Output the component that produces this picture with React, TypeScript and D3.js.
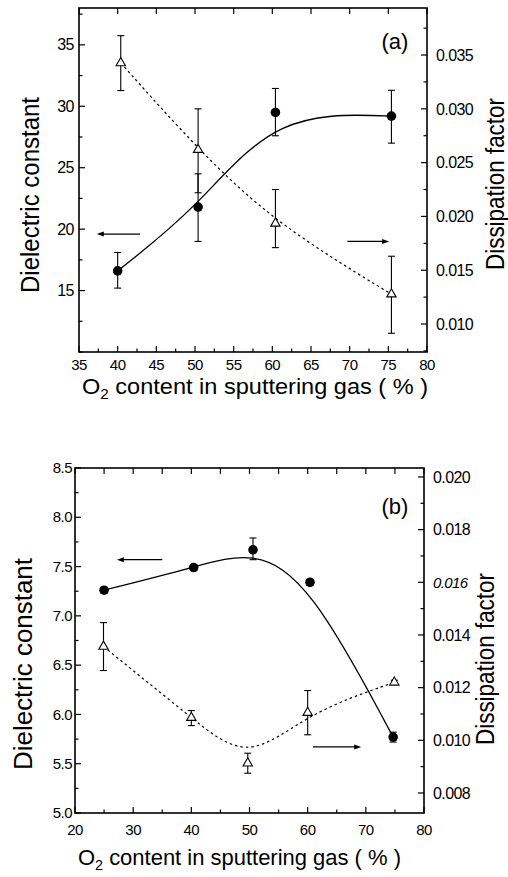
import React from 'react';
import * as d3 from 'd3';

// ---------- Panel (a) data ----------
const aCircleX = [40.0, 50.4, 60.4, 75.4];
const aDielectric = [16.6, 21.8, 29.5, 29.2];
const aDielectricLo = [15.2, 19.0, 27.6, 27.0];
const aDielectricHi = [18.1, 24.5, 31.45, 31.3];
const aTriX = [40.4, 50.4, 60.4, 75.4];
const aDissipation = [0.03426, 0.0262, 0.01935, 0.01277];
const aDissipationLo = [0.0317, 0.0222, 0.0171, 0.00914];
const aDissipationHi = [0.0368, 0.03, 0.0225, 0.0163];
const aXTicks = [35, 40, 45, 50, 55, 60, 65, 70, 75, 80];
const aLeftTicks = [15, 20, 25, 30, 35];
const aRightTicks = [0.01, 0.015, 0.02, 0.025, 0.03, 0.035];
const aRightLabels = ['0.010', '0.015', '0.020', '0.025', '0.030', '0.035'];
const aLeftArrow = [[42.9, 37.3], [19.6, 19.6]];
const aRightArrow = [[69.7, 75.1], [19.0, 19.0]];

// ---------- Panel (b) data ----------
const bCircleX = [25.0, 40.4, 50.6, 60.4, 74.7];
const bDielectric = [7.26, 7.49, 7.67, 7.34, 5.77];
const bDielectricLo = [7.23, 7.46, 7.57, 7.31, 5.72];
const bDielectricHi = [7.29, 7.52, 7.79, 7.37, 5.82];
const bTriX = [24.9, 40.0, 49.7, 60.0, 74.9];
const bDissipation = [0.01356, 0.01086, 0.00913, 0.01105, 0.0122];
const bDissipationLo = [0.01265, 0.01056, 0.00875, 0.01021, 0.01212];
const bDissipationHi = [0.01447, 0.01113, 0.00951, 0.01189, 0.01228];
const bXTicks = [20, 30, 40, 50, 60, 70, 80];
const bLeftTicks = [5.0, 5.5, 6.0, 6.5, 7.0, 7.5, 8.0, 8.5];
const bLeftLabels = ['5.0', '5.5', '6.0', '6.5', '7.0', '7.5', '8.0', '8.5'];
const bRightTicks = [0.008, 0.01, 0.012, 0.014, 0.016, 0.018, 0.02];
const bRightLabels = ['0.008', '0.010', '0.012', '0.014', '0.016', '0.018', '0.020'];
const bLeftArrow = [[35.0, 27.2], [7.57, 7.57]];
const bRightArrow = [[60.9, 69.2], [5.67, 5.67]];

const FONT = "'Liberation Sans', Arial, Helvetica, sans-serif";

type PanelProps = {
  frame: { l: number; r: number; t: number; b: number };
  xDomain: [number, number];
  leftDomain: [number, number];
  rightDomain: [number, number];
  xTicks: number[];
  xMinorStep: number;
  xTopStep: number;
  leftTicks: number[];
  leftLabels: string[];
  leftMinorStep: number;
  rightTicks: number[];
  rightLabels: string[];
  rightMinorStep: number;
  italicRight?: string;
  circleX: number[];
  circleY: number[];
  circleLo: number[];
  circleHi: number[];
  triX: number[];
  triY: number[];
  triLo: number[];
  triHi: number[];
  leftArrow: number[][];
  rightArrow: number[][];
  tag: string;
  tagPos: [number, number];
  xLabelBaseline: number;
  xLabelSize: number;
  leftLabelSize: number;
  leftLabelX: number;
  rightLabelX: number;
  leftTitle: { x: number; y: number; len: number; size: number };
  rightTitle: { x: number; y: number; len: number; size: number };
  xTitle: { x0: number; x1: number; y: number; size: number };
};

function Panel(p: PanelProps) {
  const { l, r, t, b } = p.frame;
  const x = d3.scaleLinear().domain(p.xDomain).range([l, r]);
  const yl = d3.scaleLinear().domain(p.leftDomain).range([b, t]);
  const yr = d3.scaleLinear().domain(p.rightDomain).range([b, t]);

  const eps = 1e-9;
  const xMinor = d3.range(p.xDomain[0], p.xDomain[1] + eps, p.xMinorStep);
  const xTop = d3.range(p.xDomain[0], p.xDomain[1] + eps, p.xTopStep);
  const lMinor = d3
    .range(Math.ceil(p.leftDomain[0] / p.leftMinorStep) * p.leftMinorStep, p.leftDomain[1] + eps, p.leftMinorStep);
  const rMinor = d3
    .range(Math.ceil(p.rightDomain[0] / p.rightMinorStep) * p.rightMinorStep, p.rightDomain[1] + eps, p.rightMinorStep);

  const circlePts: [number, number][] = p.circleX.map((v, i) => [x(v), yl(p.circleY[i])]);
  const triPts: [number, number][] = p.triX.map((v, i) => [x(v), yr(p.triY[i])]);
  const line = d3.line().curve(d3.curveBasis);
  const tri = d3.symbol(d3.symbolTriangle, 38)();

  const MAJ = 6;
  const MIN = 3.5;

  const arrow = (a: number[][], key: string) => {
    const x0 = x(a[0][0]);
    const x1 = x(a[0][1]);
    const y = yl(a[1][0]);
    const dir = Math.sign(x1 - x0);
    return (
      <g key={key}>
        <line x1={x0} y1={y} x2={x1 - dir * 5} y2={y} stroke="#000" strokeWidth={1.2} />
        <path d={`M${x1},${y} L${x1 - dir * 7},${y - 2.5} L${x1 - dir * 7},${y + 2.5} Z`} fill="#000" />
      </g>
    );
  };

  return (
    <g fontFamily={FONT} fill="#000">
      {/* frame */}
      <rect x={l} y={t} width={r - l} height={b - t} fill="none" stroke="#000" strokeWidth={1.6} />
      {/* bottom ticks */}
      {xMinor.map((v, i) => (
        <line key={'xm' + i} x1={x(v)} x2={x(v)} y1={b} y2={b - (p.xTicks.some((m) => Math.abs(m - v) < 1e-6) ? MAJ : MIN)} stroke="#000" strokeWidth={1.2} />
      ))}
      {/* top ticks */}
      {xTop.map((v, i) => (
        <line key={'xt' + i} x1={x(v)} x2={x(v)} y1={t} y2={t + MAJ} stroke="#000" strokeWidth={1.2} />
      ))}
      {/* left ticks */}
      {lMinor.map((v, i) => (
        <line key={'lm' + i} x1={l} x2={l + (p.leftTicks.some((m) => Math.abs(m - v) < 1e-6) ? MAJ : MIN)} y1={yl(v)} y2={yl(v)} stroke="#000" strokeWidth={1.2} />
      ))}
      {/* right ticks */}
      {rMinor.map((v, i) => (
        <line key={'rm' + i} x1={r} x2={r - (p.rightTicks.some((m) => Math.abs(m - v) < 1e-9) ? MAJ : MIN)} y1={yr(v)} y2={yr(v)} stroke="#000" strokeWidth={1.2} />
      ))}
      {/* x tick labels */}
      {p.xTicks.map((v) => (
        <text key={'xl' + v} x={x(v)} y={p.xLabelBaseline} fontSize={p.xLabelSize} textAnchor="middle" letterSpacing={-0.5}>
          {v}
        </text>
      ))}
      {p.leftTicks.map((v, i) => (
        <text key={'ll' + i} x={p.leftLabelX} y={yl(v)} dy="0.34em" fontSize={p.leftLabelSize} textAnchor="end" letterSpacing={-0.5}>
          {p.leftLabels[i]}
        </text>
      ))}
      {p.rightTicks.map((v, i) => (
        <text
          key={'rl' + i}
          x={p.rightLabelX}
          y={yr(v)}
          dy="0.36em"
          fontSize={p.rightLabels[i] === p.italicRight ? 15 : 16}
          fontStyle={p.rightLabels[i] === p.italicRight ? 'italic' : 'normal'}
          textAnchor="start"
          letterSpacing={-0.6}
        >
          {p.rightLabels[i]}
        </text>
      ))}
      {/* curves */}
      <path d={line(circlePts) || ''} fill="none" stroke="#000" strokeWidth={1.3} />
      <path d={line(triPts) || ''} fill="none" stroke="#000" strokeWidth={1.2} strokeDasharray="2.5,3" />
      {/* error bars */}
      {p.circleX.map((v, i) => (
        <g key={'ce' + i} stroke="#000" strokeWidth={1.1}>
          <line x1={x(v)} x2={x(v)} y1={yl(p.circleLo[i])} y2={yl(p.circleHi[i])} />
          <line x1={x(v) - 3.5} x2={x(v) + 3.5} y1={yl(p.circleLo[i])} y2={yl(p.circleLo[i])} />
          <line x1={x(v) - 3.5} x2={x(v) + 3.5} y1={yl(p.circleHi[i])} y2={yl(p.circleHi[i])} />
        </g>
      ))}
      {p.triX.map((v, i) => (
        <g key={'te' + i} stroke="#000" strokeWidth={1.1}>
          <line x1={x(v)} x2={x(v)} y1={yr(p.triLo[i])} y2={yr(p.triHi[i])} />
          <line x1={x(v) - 3.5} x2={x(v) + 3.5} y1={yr(p.triLo[i])} y2={yr(p.triLo[i])} />
          <line x1={x(v) - 3.5} x2={x(v) + 3.5} y1={yr(p.triHi[i])} y2={yr(p.triHi[i])} />
        </g>
      ))}
      {/* markers */}
      {circlePts.map((pt, i) => (
        <circle key={'c' + i} cx={pt[0]} cy={pt[1]} r={4.8} fill="#000" />
      ))}
      {triPts.map((pt, i) => (
        <path key={'t' + i} d={tri || ''} transform={`translate(${pt[0]},${pt[1]})`} fill="#fff" stroke="#000" strokeWidth={1.1} />
      ))}
      {/* arrows */}
      {arrow(p.leftArrow, 'la')}
      {arrow(p.rightArrow, 'ra')}
      {/* tag */}
      <text x={p.tagPos[0]} y={p.tagPos[1]} fontSize={22} textAnchor="middle">
        {p.tag}
      </text>
      {/* titles */}
      <text
        transform={`translate(${p.leftTitle.x},${p.leftTitle.y}) rotate(-90)`}
        textAnchor="middle"
        fontSize={p.leftTitle.size}
        textLength={p.leftTitle.len}
        lengthAdjust="spacingAndGlyphs"
      >
        Dielectric constant
      </text>
      <text
        transform={`translate(${p.rightTitle.x},${p.rightTitle.y}) rotate(-90)`}
        textAnchor="middle"
        fontSize={p.rightTitle.size}
        textLength={p.rightTitle.len}
        lengthAdjust="spacingAndGlyphs"
      >
        Dissipation factor
      </text>
      <text
        x={p.xTitle.x0}
        y={p.xTitle.y}
        fontSize={p.xTitle.size}
        textLength={p.xTitle.x1 - p.xTitle.x0}
        lengthAdjust="spacingAndGlyphs"
      >
        <tspan>O</tspan>
        <tspan dy={5} fontSize={p.xTitle.size * 0.65}>2</tspan>
        <tspan dy={-5}> content in sputtering gas ( % )</tspan>
      </text>
    </g>
  );
}

export default function App() {
  return (
    <svg
      width={508}
      height={877}
      viewBox="0 0 508 877"
      style={{ position: 'absolute', left: 0, top: 0, background: '#fff' }}
    >
      <rect x={0} y={0} width={508} height={877} fill="#fff" />
      <Panel
        frame={{ l: 79, r: 427, t: 8, b: 352 }}
        xDomain={[35, 80]}
        leftDomain={[10, 38]}
        rightDomain={[0.0074, 0.03937]}
        xTicks={aXTicks}
        xMinorStep={2.5}
        xTopStep={5}
        leftTicks={aLeftTicks}
        leftLabels={aLeftTicks.map(String)}
        leftMinorStep={2.5}
        rightTicks={aRightTicks}
        rightLabels={aRightLabels}
        rightMinorStep={0.0025}
        circleX={aCircleX}
        circleY={aDielectric}
        circleLo={aDielectricLo}
        circleHi={aDielectricHi}
        triX={aTriX}
        triY={aDissipation}
        triLo={aDissipationLo}
        triHi={aDissipationHi}
        leftArrow={aLeftArrow}
        rightArrow={aRightArrow}
        tag="(a)"
        tagPos={[395, 49]}
        xLabelBaseline={370}
        xLabelSize={15}
        leftLabelSize={16}
        leftLabelX={74}
        rightLabelX={436}
        leftTitle={{ x: 39, y: 195, len: 196, size: 25 }}
        rightTitle={{ x: 504, y: 184, len: 172, size: 25 }}
        xTitle={{ x0: 82, x1: 428, y: 394, size: 22 }}
      />
      <Panel
        frame={{ l: 75, r: 424, t: 468, b: 813 }}
        xDomain={[20, 80]}
        leftDomain={[5, 8.5]}
        rightDomain={[0.00724, 0.02034]}
        xTicks={bXTicks}
        xMinorStep={5}
        xTopStep={5}
        leftTicks={bLeftTicks}
        leftLabels={bLeftLabels}
        leftMinorStep={0.25}
        rightTicks={bRightTicks}
        rightLabels={bRightLabels}
        rightMinorStep={0.001}
        italicRight="0.016"
        circleX={bCircleX}
        circleY={bDielectric}
        circleLo={bDielectricLo}
        circleHi={bDielectricHi}
        triX={bTriX}
        triY={bDissipation}
        triLo={bDissipationLo}
        triHi={bDissipationHi}
        leftArrow={bLeftArrow}
        rightArrow={bRightArrow}
        tag="(b)"
        tagPos={[395, 514]}
        xLabelBaseline={835}
        xLabelSize={15}
        leftLabelSize={15}
        leftLabelX={72}
        rightLabelX={433}
        leftTitle={{ x: 32, y: 664, len: 212, size: 26 }}
        rightTitle={{ x: 494, y: 659, len: 172, size: 25 }}
        xTitle={{ x0: 78, x1: 401, y: 865, size: 22 }}
      />
    </svg>
  );
}
